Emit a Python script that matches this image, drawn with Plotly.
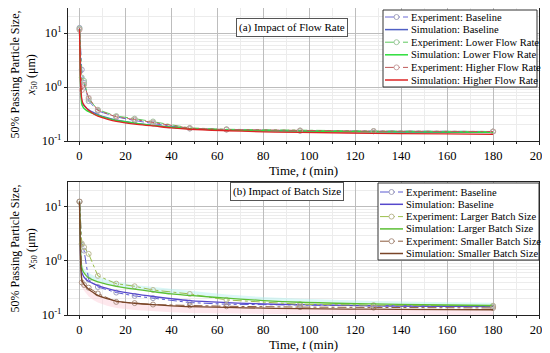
import plotly.graph_objects as go

# ---------------- data ----------------
t_exp = [0, 1, 2, 4, 8, 16, 24, 32, 48, 64, 96, 128, 180]
t_sim = [0, 0.25, 0.5, 1, 1.5, 2, 3, 4, 6, 8, 12, 16, 24, 32, 40, 48, 64, 80, 96, 128, 160, 180]

# (a) Impact of Flow Rate
a_exp_base = [12.5, 2.1, 1.2, 0.55, 0.36, 0.28, 0.24, 0.21, 0.17, 0.163, 0.155, 0.152, 0.15]
a_exp_lower = [12, 1.5, 1.3, 0.6, 0.38, 0.29, 0.26, 0.23, 0.175, 0.165, 0.157, 0.153, 0.15]
a_exp_higher = [11.5, 0.88, 1.1, 0.63, 0.37, 0.28, 0.25, 0.22, 0.172, 0.163, 0.155, 0.152, 0.15]
a_sim_base = [12, 4, 1.2, 0.55, 0.48, 0.45, 0.41, 0.38, 0.34, 0.31, 0.27, 0.245, 0.215, 0.195,
              0.18, 0.17, 0.16, 0.155, 0.152, 0.148, 0.145, 0.143]
a_sim_lower = [12, 3.5, 1.0, 0.48, 0.43, 0.40, 0.37, 0.35, 0.32, 0.30, 0.265, 0.24, 0.215, 0.195,
               0.18, 0.17, 0.16, 0.155, 0.152, 0.148, 0.146, 0.145]
a_sim_higher = [12, 3.0, 1.1, 0.6, 0.5, 0.46, 0.41, 0.37, 0.32, 0.29, 0.255, 0.23, 0.205, 0.19,
                0.175, 0.165, 0.155, 0.148, 0.144, 0.139, 0.135, 0.133]

# (b) Impact of Batch Size
b_exp_base = [12.5, 2.0, 1.55, 0.45, 0.33, 0.26, 0.225, 0.205, 0.17, 0.158, 0.152, 0.148, 0.145]
b_exp_larger = [12.5, 2.1, 1.8, 1.35, 0.53, 0.38, 0.34, 0.29, 0.245, 0.19, 0.158, 0.152, 0.148]
b_exp_smaller = [12.5, 0.4, 0.36, 0.32, 0.25, 0.175, 0.166, 0.156, 0.15, 0.145, 0.14, 0.137, 0.135]
b_sim_base = [12.5, 4, 1.2, 0.62, 0.55, 0.5, 0.45, 0.42, 0.38, 0.35, 0.31, 0.28, 0.245, 0.22,
              0.2, 0.185, 0.17, 0.16, 0.155, 0.148, 0.145, 0.143]
b_sim_larger = [12.5, 4.5, 1.5, 0.75, 0.65, 0.6, 0.53, 0.49, 0.44, 0.41, 0.37, 0.34, 0.3, 0.27,
                0.245, 0.23, 0.205, 0.185, 0.172, 0.16, 0.153, 0.15]
b_sim_smaller = [12.5, 3, 0.9, 0.45, 0.4, 0.37, 0.33, 0.3, 0.26, 0.23, 0.2, 0.18, 0.165, 0.155,
                 0.148, 0.143, 0.138, 0.134, 0.131, 0.128, 0.126, 0.125]
b_band_larger_hi = [12.5, 5, 1.8, 0.9, 0.8, 0.72, 0.64, 0.6, 0.54, 0.5, 0.45, 0.41, 0.36, 0.33,
                    0.3, 0.28, 0.24, 0.215, 0.2, 0.182, 0.172, 0.168]
b_band_smaller_lo = [12.5, 2.5, 0.7, 0.33, 0.3, 0.28, 0.25, 0.22, 0.19, 0.17, 0.148, 0.135, 0.124,
                     0.117, 0.112, 0.109, 0.106, 0.104, 0.103, 0.102, 0.101, 0.1]

x_ticks = [0, 20, 40, 60, 80, 100, 120, 140, 160, 180, 200]
y_tickvals = [0.1, 1, 10]
y_ticktext = ["10<sup>-1</sup>", "10<sup>0</sup>", "10<sup>1</sup>"]

labels_a = ["Experiment: Baseline", "Simulation: Baseline",
            "Experiment: Lower Flow Rate", "Simulation: Lower Flow Rate",
            "Experiment: Higher Flow Rate", "Simulation: Higher Flow Rate"]
labels_b = ["Experiment: Baseline", "Simulation: Baseline",
            "Experiment: Larger Batch Size", "Simulation: Larger Batch Size",
            "Experiment: Smaller Batch Size", "Simulation: Smaller Batch Size"]
panel_titles = ["(a) Impact of Flow Rate", "(b) Impact of Batch Size"]

# ---------------- styles ----------------
FONT = "Liberation Serif, serif"
OFF = 8  # page body margin of the html page
W, H = 550 - OFF, 353 - OFF
ML, MR, MT, MB = 68 - OFF, 11, 0, 38
PW, PH = W - ML - MR, H - MT - MB

colors_a = ["#6b6bd6", "#4f5fc4", "#5fc95f", "#2ede3c", "#c05a5a", "#dc2424"]
colors_b = ["#5a5ad2", "#5648cc", "#9bbf4a", "#5cbf35", "#8b5a3c", "#7a4528"]
mk_a = ["#a2a2bc", None, "#a2c8a2", None, "#c8a2a2", None]
mk_b = ["#a2a2bc", None, "#bcb894", None, "#ad9486", None]


def px2paper(px, py):
    """screen pixel -> paper coords"""
    return (px - OFF - ML) / PW, (H - MB - (py - OFF)) / PH


top_lo = px2paper(0, 141)[1]
bot_hi = px2paper(0, 182)[1]

fig = go.Figure()

# bands (panel b)
fig.add_trace(go.Scatter(x=t_sim, y=b_sim_larger, mode="lines", line=dict(width=0),
                         xaxis="x2", yaxis="y2", showlegend=False, hoverinfo="skip"))
fig.add_trace(go.Scatter(x=t_sim, y=b_band_larger_hi, mode="lines", line=dict(width=0),
                         fill="tonexty", fillcolor="rgba(175,240,238,0.45)",
                         xaxis="x2", yaxis="y2", showlegend=False, hoverinfo="skip"))
fig.add_trace(go.Scatter(x=t_sim, y=b_sim_smaller, mode="lines", line=dict(width=0),
                         xaxis="x2", yaxis="y2", showlegend=False, hoverinfo="skip"))
fig.add_trace(go.Scatter(x=t_sim, y=b_band_smaller_lo, mode="lines", line=dict(width=0),
                         fill="tonexty", fillcolor="rgba(252,205,215,0.45)",
                         xaxis="x2", yaxis="y2", showlegend=False, hoverinfo="skip"))


def add_panel(exps, sims, colors, mks, xa, ya):
    for i, (e, s) in enumerate(zip(exps, sims)):
        fig.add_trace(go.Scatter(
            x=t_exp, y=e, mode="lines+markers", xaxis=xa, yaxis=ya, showlegend=False,
            line=dict(color=colors[2 * i], width=1, dash="dashdot"),
            marker=dict(symbol="circle-open", size=5, color=mks[2 * i], line=dict(width=1))))
        fig.add_trace(go.Scatter(
            x=t_sim, y=s, mode="lines", xaxis=xa, yaxis=ya, showlegend=False,
            line=dict(color=colors[2 * i + 1], width=1.3), line_shape="spline"))


add_panel([a_exp_base, a_exp_lower, a_exp_higher], [a_sim_base, a_sim_lower, a_sim_higher],
          colors_a, mk_a, "x", "y")
add_panel([b_exp_base, b_exp_larger, b_exp_smaller], [b_sim_base, b_sim_larger, b_sim_smaller],
          colors_b, mk_b, "x2", "y2")

axis_common = dict(showline=True, linecolor="#222", linewidth=1, mirror=True,
                   ticks="outside", ticklen=3, tickcolor="#222",
                   gridcolor="#bdbdbd", gridwidth=1, zeroline=False,
                   tickfont=dict(family=FONT, size=12.5, color="black"))
xcommon = dict(axis_common, range=[-5, 200], tickvals=x_ticks,
               minor=dict(dtick=10, showgrid=True, gridcolor="#ececec", ticks="outside", ticklen=2),
               title=dict(text="Time, <i>t</i> (min)", font=dict(family=FONT, size=13, color="black"),
                          standoff=1))
ycommon = dict(axis_common, type="log", tickvals=y_tickvals, ticktext=y_ticktext,
               minor=dict(showgrid=True, gridcolor="#ececec", ticks="", tickvals=[
                   0.2, 0.3, 0.4, 0.5, 0.6, 0.7, 0.8, 0.9, 2, 3, 4, 5, 6, 7, 8, 9, 20]),
               title=dict(text="50% Passing Particle Size,<br><i>x</i><sub>50</sub> (μm)",
                          font=dict(family=FONT, size=12, color="black"), standoff=6))

fig.update_layout(
    width=W, height=H, margin=dict(l=ML, r=MR, t=MT, b=MB),
    paper_bgcolor="white", plot_bgcolor="white",
    font=dict(family=FONT, color="black"),
    xaxis=dict(xcommon, domain=[0, 1], anchor="y"),
    yaxis=dict(ycommon, domain=[top_lo, 1], anchor="x", range=[-1, 1.465]),
    xaxis2=dict(xcommon, domain=[0, 1], anchor="y2"),
    yaxis2=dict(ycommon, domain=[0, bot_hi], anchor="x2", range=[-1, 1.46]),
    showlegend=False,
)

# panel title boxes
for txt, (cx, cy) in zip(panel_titles, [(292, 17.5), (287, 191)]):
    px_, py_ = px2paper(cx, cy)
    fig.add_annotation(x=px_, y=py_, xref="paper", yref="paper", text=txt, showarrow=False,
                       font=dict(family=FONT, size=11, color="black"),
                       bordercolor="#555", borderwidth=1, borderpad=2, bgcolor="white")


# manual legends
def add_legend(labels, colors, mks, box, row0, dy, lx0, lx1, tx):
    x0, y0 = px2paper(box[0], box[1])
    x1, y1 = px2paper(box[2], box[3])
    fig.add_shape(type="rect", xref="paper", yref="paper", x0=x0, y0=y1, x1=x1, y1=y0,
                  line=dict(color="#333", width=1), fillcolor="white", layer="above")
    for i, lab in enumerate(labels):
        ry = row0 + i * dy
        a0, yy = px2paper(lx0, ry)
        a1, _ = px2paper(lx1, ry)
        is_exp = i % 2 == 0
        fig.add_shape(type="line", xref="paper", yref="paper", x0=a0, x1=a1, y0=yy, y1=yy,
                      line=dict(color=colors[i], width=1 if is_exp else 1.5,
                                dash="dashdot" if is_exp else "solid"), layer="above")
        if is_exp:
            mx = (lx0 + lx1) / 2
            c0, cy0 = px2paper(mx - 2.5, ry - 2.5)
            c1, cy1 = px2paper(mx + 2.5, ry + 2.5)
            fig.add_shape(type="circle", xref="paper", yref="paper", x0=c0, x1=c1, y0=cy1, y1=cy0,
                          line=dict(color=mks[i], width=1), fillcolor="white", layer="above")
        txp, _ = px2paper(tx, ry)
        fig.add_annotation(x=txp, y=yy, xref="paper", yref="paper", text=lab, showarrow=False,
                           xanchor="left", yanchor="middle",
                           font=dict(family=FONT, size=10.5, color="black"))


add_legend(labels_a, colors_a, mk_a, (383, 10, 537, 87), 17, 12.6, 385, 408, 409)
add_legend(labels_b, colors_b, mk_b, (378, 183, 539, 260), 192, 12.3, 380, 403, 404)

fig.write_html("out.html")
